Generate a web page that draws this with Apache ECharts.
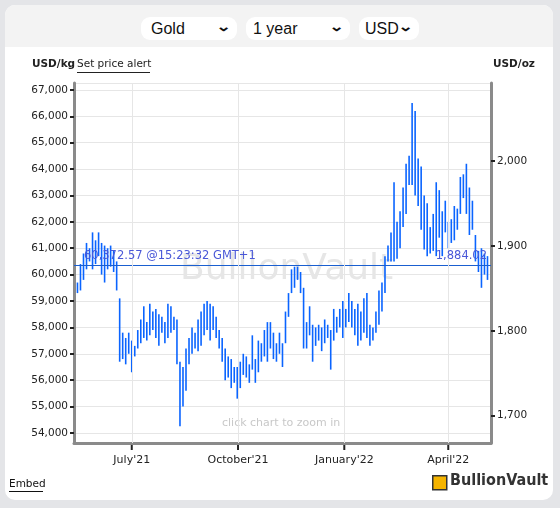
<!doctype html>
<html>
<head>
<meta charset="utf-8">
<script src="https://cdn.jsdelivr.net/npm/echarts@6/dist/echarts.min.js"></script>
<style>
  html, body { margin: 0; padding: 0; background: #e4e5e8; font-family: "DejaVu Sans", sans-serif; }
  #panel { position: absolute; left: 5px; top: 5px; width: 548px; height: 495px; background: #fff; border-radius: 10px; overflow: hidden; }
  #head { position: absolute; left: 0; top: 0; width: 548px; height: 42px; background: #f3f3f3; }
  .sel { position: absolute; top: 12px; height: 23px; background: #fff; border-radius: 9px; font-family: Arial, "Liberation Sans", sans-serif; font-size: 16px; line-height: 23px; color: #111; }
  .sel span.arr { position: absolute; right: 8px; top: -2px; font-size: 13px; font-weight: bold; transform: scaleX(1.4); }
  #main { position: absolute; left: 0; top: 0; width: 560px; height: 508px; }
</style>
</head>
<body>
<div id="panel">
  <div id="head">
    <div class="sel" style="left:136px;width:96px;"><span style="padding-left:10px">Gold</span><span class="arr">&#8964;</span></div>
    <div class="sel" style="left:241px;width:104px;"><span style="padding-left:7px">1 year</span><span class="arr">&#8964;</span></div>
    <div class="sel" style="left:354px;width:60px;"><span style="padding-left:6px">USD</span><span class="arr">&#8964;</span></div>
  </div>
</div>
<div id="main"></div>
<script>
// USD/kg high and low of each bar, oldest first
var highs = [59700,60400,60800,61200,61000,61600,61300,61600,61200,61100,61000,61100,60900,60500,
  59100,57800,57600,57800,57500,57300,57900,58300,58800,58200,58900,58600,58700,58500,58400,58200,58900,58800,58400,58300,
  56700,56500,57200,57600,58000,57800,58300,58600,58900,59000,58900,58800,58400,
  57900,57600,57200,56900,56800,56500,56500,56700,57000,56900,56600,57700,56800,57500,57400,57900,58200,58200,57800,57400,57800,57400,
  58600,59300,60200,60300,60300,60100,59500,58200,58800,58100,58000,58100,58000,58300,58100,57900,58700,58400,58700,59000,58700,59300,59000,
  58700,58900,58600,59100,59300,58100,58000,58600,59400,59700,60700,61100,61600,63500,62000,62400,63300,64200,64500,66500,66200,64400,64100,
  63000,62700,61800,62300,63500,63200,62400,62800,62000,62100,62600,62500,63700,63800,64200,63300,62800,61500,60900,61000,60800,60700];
var lows = [59300,59400,59800,60200,60500,60200,60400,60700,60000,59700,60200,60300,60100,59400,
  56700,56800,56600,57000,56300,56900,57200,57400,57600,57500,57700,57900,57600,57300,57800,57400,57600,57800,57900,56600,
  54250,55000,55600,56600,57000,57200,57100,57300,57700,57900,57500,57900,57600,
  57200,56700,56000,56100,55700,55900,55300,55700,56200,56100,55900,56400,55900,56300,56700,56900,56700,57200,56800,56700,57000,56500,
  57400,58400,59300,59500,59800,59300,57200,57200,57700,56700,57300,57500,57100,57400,57600,56400,57500,57800,58000,57600,58000,58200,58000,
  57700,57300,57500,57800,57600,57300,57500,57800,58100,58600,59300,60500,60500,60500,60600,61000,61800,62300,63400,63400,63000,62600,61700,
  60950,60700,60800,60900,60700,61400,60700,61600,61000,61200,61300,61700,62300,62900,62300,61500,61700,60500,60100,59500,60000,59800];
var firstBar = '2021-05-15';
var barStepDays = 2.61;
var quarterDates = ['2021-07-01', '2021-10-01', '2022-01-01', '2022-04-01'];
var quarterLabels = ["July'21", "October'21", "January'22", "April'22"];
var lastKg = 60372.57, lastKgText = '60,372.57 @15:23:32 GMT+1', lastOzText = '1,884.02';
var kgPerOz = 32.1507;
var yMin = 53620, yMax = 67260;

var t0 = new Date(firstBar + 'T00:00:00Z').getTime();
var bars = highs.map(function (h, i) { return [t0 + i * barStepDays * 86400000, lows[i], h]; });

var chart = echarts.init(document.getElementById('main'));
var lab = { fontFamily: 'DejaVu Sans', fontSize: 10.5, color: '#222' };
chart.setOption({
    animation: false,
    grid: { left: 74, right: 69, top: 83, bottom: 65 },
    xAxis: {
        type: 'time', min: '2021-05-12', max: '2022-05-08',
        axisLine: { lineStyle: { color: '#8a8a8a', width: 3 } },
        axisTick: { show: false }, splitLine: { show: false },
        axisLabel: Object.assign({}, lab, { formatter: function () { return ''; } })
    },
    yAxis: [{
        type: 'value', min: yMin, max: yMax, splitNumber: 13,
        axisLine: { show: true, lineStyle: { color: '#8a8a8a', width: 3 } },
        axisTick: { show: true, length: 4, lineStyle: { color: '#222', width: 2 } },
        axisLabel: Object.assign({ showMinLabel: false, showMaxLabel: false, margin: 6 }, lab),
        splitLine: { lineStyle: { color: '#e6e6e6' } }
    }, {
        type: 'value', min: yMin / kgPerOz, max: yMax / kgPerOz, splitNumber: 4, position: 'right',
        axisLine: { show: true, lineStyle: { color: '#8a8a8a', width: 3 } },
        axisTick: { show: true, length: 4, lineStyle: { color: '#222', width: 2 } },
        axisLabel: Object.assign({ showMinLabel: false, showMaxLabel: false, margin: 6 }, lab),
        splitLine: { show: false }
    }],
    graphic: [
        { type: 'text', left: 180, top: 252, z: 0, style: { text: 'BullionVault', font: '36px "DejaVu Sans"', fill: '#e6e6e6' } },
        { type: 'text', left: 222, top: 418, z: 0, style: { text: 'click chart to zoom in', font: '11px "DejaVu Sans"', fill: '#c8c8c8' } },
        { type: 'text', left: 32, top: 59, style: { text: 'USD/kg', font: 'bold 10.5px "DejaVu Sans"', fill: '#222' } },
        { type: 'text', left: 77, top: 59, style: { text: 'Set price alert', font: '10.5px "DejaVu Sans"', fill: '#222' } },
        { type: 'rect', left: 77, top: 72, shape: { width: 73, height: 1 }, style: { fill: '#222' } },
        { type: 'text', left: 493, top: 59, style: { text: 'USD/oz', font: 'bold 10.5px "DejaVu Sans"', fill: '#222' } },
        { type: 'text', left: 9, top: 479, style: { text: 'Embed', font: '10.5px "DejaVu Sans"', fill: '#111' } },
        { type: 'rect', left: 9, top: 491, shape: { width: 34, height: 1 }, style: { fill: '#111' } },
        { type: 'rect', left: 432, top: 475, shape: { width: 14, height: 14 }, style: { fill: '#f5b400', stroke: '#333', lineWidth: 1.5 } },
        { type: 'text', left: 450, top: 473, style: { text: 'BullionVault', font: 'bold 16px "DejaVu Sans Condensed"', fill: '#333' } }
    ],
    series: [{
        type: 'custom', z: 3,
        data: bars,
        renderItem: function (params, api) {
            var a = api.coord([api.value(0), api.value(1)]);
            var b = api.coord([api.value(0), api.value(2)]);
            return { type: 'line', shape: { x1: a[0], y1: a[1], x2: b[0], y2: b[1] }, style: { stroke: '#0a64ff', lineWidth: 1.6 } };
        },
        markLine: {
            silent: true, symbol: 'none', animation: false,
            lineStyle: { color: '#1a5fd0', type: 'solid', width: 1.2 },
            data: [
                { yAxis: lastKg, label: { position: 'insideStartTop', formatter: lastKgText, color: '#4a58d8', fontSize: 11.5, fontFamily: 'DejaVu Sans', distance: [10, 3] } },
                { yAxis: lastKg, label: { position: 'insideEndTop', formatter: lastOzText, color: '#4a58d8', fontSize: 11.5, fontFamily: 'DejaVu Sans', distance: [4, 3] } }
            ]
        }
    }, {
        type: 'line', data: [], z: 1,
        markLine: {
            silent: true, symbol: 'none', animation: false,
            lineStyle: { color: '#e6e6e6', type: 'solid', width: 1 },
            label: { show: false },
            data: quarterDates.map(function (d) { return { xAxis: d }; })
        }
    }]
});

// quarter labels and ticks under the x axis, placed through the axis scale
var qGraphics = [];
quarterDates.forEach(function (d, i) {
    var p = chart.convertToPixel({ xAxisIndex: 0 }, new Date(d + 'T00:00:00Z').getTime());
    qGraphics.push({ id: 'qt' + i, type: 'rect', x: p - 1, y: 445, shape: { width: 2, height: 5 }, style: { fill: '#222' } });
    qGraphics.push({ id: 'ql' + i, type: 'text', x: p, y: 455, style: { text: quarterLabels[i], font: '11px "DejaVu Sans"', fill: '#222', align: 'center' } });
});
chart.setOption({ graphic: qGraphics });
</script>
</body>
</html>
